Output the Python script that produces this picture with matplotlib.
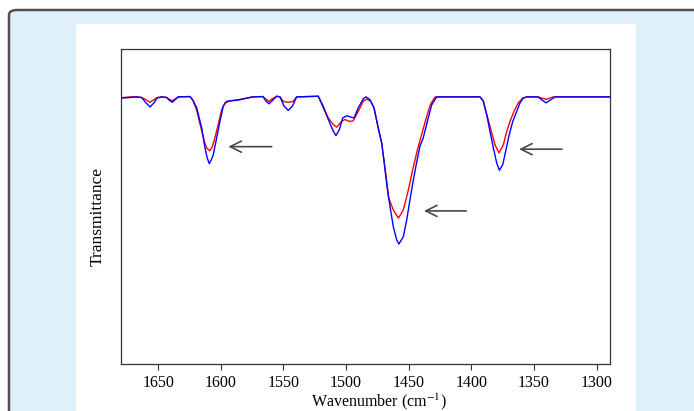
import matplotlib
matplotlib.use("Agg")
import matplotlib.pyplot as plt
from matplotlib.patches import FancyBboxPatch, Rectangle

# spectra (wavenumber in cm-1, transmittance in arb. units)
blue_wn = [1680.0, 1672.6, 1667.8, 1663.3, 1659.8, 1656.6, 1653.4, 1651.0, 1647.0, 1643.3,
           1641.1, 1638.8, 1636.3, 1634.0, 1624.7, 1622.3, 1619.3, 1617.5, 1615.3, 1612.7,
           1611.1, 1609.3, 1607.7, 1606.1, 1603.4, 1600.7, 1598.1, 1595.4, 1590.3, 1584.7,
           1579.4, 1574.4, 1566.4, 1564.0, 1561.6, 1559.2, 1555.4, 1552.8, 1549.6, 1546.2,
           1542.8, 1539.5, 1522.2, 1518.2, 1514.2, 1510.2, 1508.1, 1505.4, 1502.7, 1499.5,
           1495.5, 1493.7, 1490.3, 1486.3, 1484.1, 1480.9, 1477.7, 1474.3, 1471.6, 1469.7,
           1467.6, 1464.9, 1462.3, 1459.6, 1457.8, 1454.3, 1451.6, 1449.0, 1446.3, 1443.6,
           1441.0, 1438.5, 1434.4, 1431.6, 1427.6, 1393.1, 1390.4, 1387.7, 1385.1, 1382.4,
           1379.7, 1377.6, 1374.9, 1372.3, 1369.7, 1366.9, 1363.7, 1361.1, 1358.5, 1355.8,
           1346.7, 1343.5, 1340.3, 1336.8, 1333.2, 1289.0]
blue_t = [84.4, 84.6, 84.8, 84.6, 82.9, 81.6, 82.9, 84.4, 84.8, 84.6,
          83.7, 83.1, 84.0, 84.8, 84.9, 83.8, 81.3, 78.4, 74.9, 68.6,
          65.7, 63.6, 64.8, 66.4, 71.7, 77.1, 81.8, 83.4, 83.6, 83.9,
          84.4, 84.8, 84.9, 83.5, 82.6, 83.5, 85.0, 84.8, 81.9, 80.5,
          81.9, 84.8, 85.0, 81.8, 77.6, 73.9, 72.5, 74.4, 78.1, 78.8,
          78.3, 78.1, 81.3, 84.2, 84.8, 83.9, 81.3, 74.9, 70.2, 64.4,
          57.4, 49.9, 43.6, 39.4, 38.1, 40.4, 45.7, 52.1, 58.4, 64.1,
          69.2, 71.6, 78.1, 82.3, 84.8, 84.8, 83.4, 79.1, 73.9, 68.6,
          63.8, 61.5, 63.3, 68.0, 72.8, 77.0, 80.2, 82.9, 84.4, 84.8,
          84.8, 83.8, 82.9, 83.8, 84.8, 84.8]

red_wn = [1680.0, 1672.6, 1667.8, 1663.3, 1659.8, 1656.6, 1653.4, 1651.0, 1647.0, 1643.3,
          1641.1, 1638.8, 1636.3, 1634.0, 1624.7, 1622.3, 1619.3, 1617.5, 1615.3, 1612.7,
          1611.1, 1609.0, 1607.0, 1605.3, 1602.1, 1599.4, 1596.8, 1592.0, 1584.7, 1579.4,
          1574.4, 1566.4, 1564.0, 1561.6, 1559.2, 1555.4, 1552.8, 1550.0, 1546.2, 1542.5,
          1539.5, 1522.2, 1518.2, 1514.2, 1510.2, 1507.6, 1503.6, 1501.0, 1497.0, 1494.3,
          1490.3, 1486.3, 1483.6, 1480.4, 1477.7, 1474.3, 1471.6, 1469.7, 1467.6, 1466.3,
          1462.3, 1458.2, 1454.3, 1450.3, 1446.3, 1443.1, 1440.9, 1436.0, 1432.8, 1428.9,
          1393.1, 1390.4, 1389.1, 1385.1, 1381.1, 1377.9, 1374.4, 1371.7, 1369.1, 1365.9,
          1362.5, 1359.0, 1355.8, 1346.7, 1340.3, 1334.5, 1289.0]
red_t = [84.5, 84.8, 84.8, 84.6, 83.9, 83.1, 83.9, 84.6, 84.8, 84.6,
         84.0, 83.6, 84.2, 84.8, 84.9, 83.6, 80.6, 77.5, 74.0, 70.0,
         68.5, 67.7, 68.8, 71.0, 76.0, 80.7, 82.9, 83.6, 84.0, 84.4,
         84.8, 84.9, 84.1, 83.4, 84.1, 85.0, 84.8, 83.3, 83.1, 83.3,
         84.8, 85.0, 81.3, 78.1, 76.0, 75.2, 77.0, 77.6, 77.0, 77.2,
         80.2, 83.4, 84.1, 83.4, 81.3, 74.9, 70.2, 64.4, 58.0, 53.1,
         48.9, 46.3, 48.9, 55.2, 62.6, 67.9, 71.1, 78.1, 82.3, 84.8,
         84.8, 83.6, 81.3, 75.5, 69.6, 67.0, 69.6, 73.9, 77.0, 80.2,
         82.9, 84.4, 84.8, 84.8, 84.0, 84.8, 84.8]

ticks = [1650, 1600, 1550, 1500, 1450, 1400, 1350, 1300]

# arrows: (tail x, head x, y)
arrows = [(1559.4, 1594.0, 69.0), (1404.0, 1437.8, 48.6), (1327.6, 1361.8, 68.2)]

W, H = 694, 411
fig = plt.figure(figsize=(W / 100, H / 100), dpi=100)

# light blue card with rounded border, white panel on it (behind the axes)
card = FancyBboxPatch((9 / W, -0.2), 1.2, (H - 10) / H + 0.2,
                      boxstyle="round,pad=0,rounding_size=0.012",
                      transform=fig.transFigure, facecolor="#dff0fa",
                      edgecolor="#505050", linewidth=1.8, zorder=-2)
fig.patches.append(card)
panel = Rectangle((76 / W, 0), (636 - 76) / W, (H - 24) / H,
                  transform=fig.transFigure, facecolor="white", edgecolor="none",
                  zorder=-1)
fig.patches.append(panel)

ax = fig.add_axes([120.7 / W, (H - 364) / H, (610.3 - 120.7) / W, (364 - 49) / H])
ax.set_facecolor("white")

ax.plot(red_wn, red_t, color="#ff0000", lw=1.0)
ax.plot(blue_wn, blue_t, color="#0000ff", lw=1.0)

for x0, x1, y in arrows:
    ax.annotate("", xy=(x1, y), xytext=(x0, y),
                arrowprops=dict(arrowstyle="->,head_length=0.8,head_width=0.4",
                                color="#484848", lw=1.2, shrinkA=0, shrinkB=0))

ax.set_xlim(1680, 1289)
ax.set_ylim(0, 100)
ax.set_xticks(ticks)
ax.set_yticks([])
for lab in ax.get_xticklabels():
    lab.set_fontfamily("Liberation Serif")
ax.tick_params(axis="x", labelsize=11.5, length=4, width=0.8, pad=4, color="#333333")
for s in ax.spines.values():
    s.set_color("#333333")
    s.set_linewidth(0.9)

fig.text(379 / W, 1 - 402 / H, "Wavenumber (cm$^{-1}$)", ha="center", va="center",
         fontsize=11.5, family="Liberation Serif", math_fontfamily="stix")
fig.text(98 / W, 1 - 217 / H, "Transmittance", ha="center", va="center",
         rotation=90, fontsize=12.5, family="Liberation Serif")

fig.savefig("out.png", dpi=100)
